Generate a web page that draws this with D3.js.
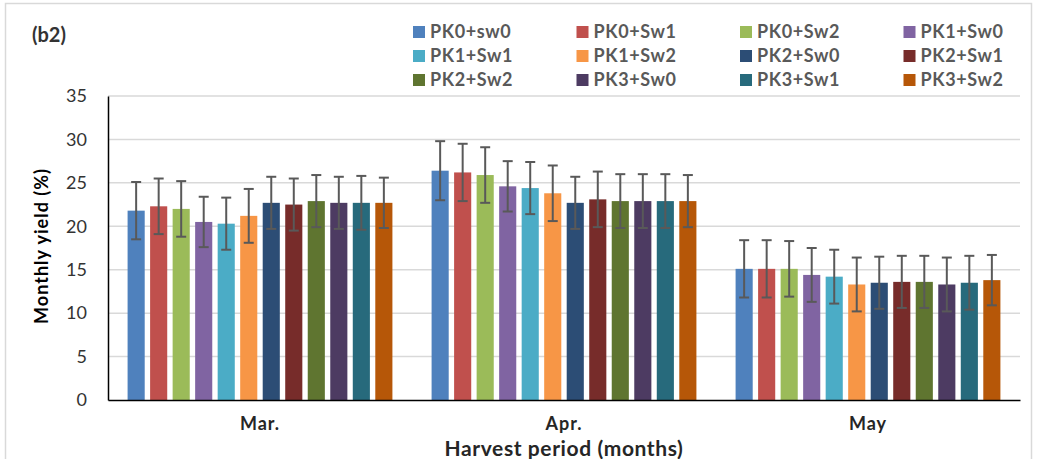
<!DOCTYPE html>
<html>
<head>
<meta charset="utf-8">
<script src="https://cdn.jsdelivr.net/npm/d3@7"></script>
<style>
  body { margin: 0; background: #fff; }
  text { font-family: Lato, "Liberation Sans", sans-serif; }
</style>
</head>
<body>
<div id="chart"></div>
<script>
// data
const months = ["Mar.", "Apr.", "May"];
const treatments = ["PK0+sw0", "PK0+Sw1", "PK0+Sw2", "PK1+Sw0", "PK1+Sw1", "PK1+Sw2",
                    "PK2+Sw0", "PK2+Sw1", "PK2+Sw2", "PK3+Sw0", "PK3+Sw1", "PK3+Sw2"];
const colors = ["#4F81BD", "#C0504D", "#9BBB59", "#8064A2", "#4BACC6", "#F79646",
                "#2C4D75", "#772C2A", "#5F7530", "#4D3B62", "#276A7C", "#B65708"];
const marMeans = [21.8, 22.3, 22.0, 20.5, 20.3, 21.2, 22.7, 22.5, 22.9, 22.7, 22.7, 22.7];
const marErr   = [3.3, 3.2, 3.2, 2.9, 3.0, 3.1, 3.0, 3.0, 3.0, 3.0, 3.1, 2.9];
const aprMeans = [26.4, 26.2, 25.9, 24.6, 24.4, 23.8, 22.7, 23.1, 22.9, 22.9, 22.9, 22.9];
const aprErr   = [3.4, 3.3, 3.2, 2.9, 3.0, 3.2, 3.0, 3.2, 3.1, 3.1, 3.1, 3.0];
const mayMeans = [15.1, 15.1, 15.1, 14.4, 14.2, 13.3, 13.5, 13.6, 13.6, 13.3, 13.5, 13.8];
const mayErr   = [3.3, 3.3, 3.2, 3.1, 3.1, 3.1, 3.0, 3.0, 3.0, 3.1, 3.1, 2.9];
const yTicks = [0, 5, 10, 15, 20, 25, 30, 35];

const width = 1037, height = 459;
const margin = {top: 96, right: 17, bottom: 59, left: 108};
const innerW = width - margin.left - margin.right;
const innerH = height - margin.top - margin.bottom;

let means = [marMeans, aprMeans, mayMeans];
let errs = [marErr, aprErr, mayErr];
let data = [];
months.forEach((m, i) => {
    treatments.forEach((t, j) => {
        data.push({month: m, treat: t, value: means[i][j], err: errs[i][j], color: colors[j]});
    });
});

let svg = d3.select("#chart")
    .append("svg")
    .attr("width", width)
    .attr("height", height);

// outer frame
svg.append("rect")
    .attr("x", 5.5).attr("y", 3.5)
    .attr("width", 1026).attr("height", 470)
    .attr("fill", "none")
    .attr("stroke", "#d9d9d9")
    .attr("stroke-width", 1.5);

let g = svg.append("g")
    .attr("transform", `translate(${margin.left}, ${margin.top})`);

let x0 = d3.scaleBand()
    .domain(months)
    .range([0, innerW]);

let x1 = d3.scaleBand()
    .domain(treatments)
    .range([0, x0.bandwidth()])
    .paddingInner(0.24)
    .paddingOuter(0.87);

let y = d3.scaleLinear()
    .domain([0, 35])
    .range([innerH, 0]);

// gridlines
g.append("g")
    .selectAll("line")
    .data(yTicks.filter(d => d > 0))
    .enter()
    .append("line")
    .attr("x1", 0).attr("x2", innerW)
    .attr("y1", d => y(d)).attr("y2", d => y(d))
    .attr("stroke", "#d9d9d9")
    .attr("stroke-width", 1.5);

// y axis
let yAxis = g.append("g")
    .call(d3.axisLeft(y).tickValues(yTicks).tickSize(0).tickPadding(21));
yAxis.select(".domain").attr("stroke", "#000").attr("stroke-width", 1.5);
yAxis.selectAll("text")
    .style("font-family", "Lato, sans-serif")
    .style("font-size", "18px")
    .attr("fill", "#333");

// bars
g.selectAll("rect.bar")
    .data(data)
    .enter()
    .append("rect")
    .attr("class", "bar")
    .attr("x", d => x0(d.month) + x1(d.treat))
    .attr("y", d => y(d.value))
    .attr("width", x1.bandwidth())
    .attr("height", d => y(0) - y(d.value))
    .attr("fill", d => d.color);

// error bars
let eb = g.append("g").selectAll("g")
    .data(data)
    .enter()
    .append("g")
    .attr("transform", d => `translate(${x0(d.month) + x1(d.treat) + x1.bandwidth() / 2}, 0)`);
eb.append("line")
    .attr("y1", d => y(d.value + d.err))
    .attr("y2", d => y(d.value - d.err));
eb.append("line")
    .attr("x1", -5).attr("x2", 5)
    .attr("y1", d => y(d.value + d.err)).attr("y2", d => y(d.value + d.err));
eb.append("line")
    .attr("x1", -5).attr("x2", 5)
    .attr("y1", d => y(d.value - d.err)).attr("y2", d => y(d.value - d.err));
eb.selectAll("line")
    .attr("stroke", "#595959")
    .attr("stroke-width", 2);

// x axis
let xAxis = g.append("g")
    .attr("transform", `translate(0, ${innerH})`)
    .call(d3.axisBottom(x0).tickSize(0).tickPadding(17));
xAxis.select(".domain").attr("stroke", "#000").attr("stroke-width", 1.5);
xAxis.selectAll("text")
    .style("font-family", "Lato, sans-serif")
    .style("font-size", "18px")
    .style("font-weight", "bold")
    .style("letter-spacing", "1px")
    .attr("fill", "#262626");

// axis titles
svg.append("text")
    .attr("transform", `translate(48, ${margin.top + innerH / 2 - 2})rotate(-90)`)
    .style("text-anchor", "middle")
    .style("font-size", "18px")
    .style("font-weight", "bold")
    .style("letter-spacing", "1px")
    .attr("fill", "#000")
    .text("Monthly yield (%)");

svg.append("text")
    .attr("x", margin.left + innerW / 2)
    .attr("y", 456)
    .style("text-anchor", "middle")
    .style("font-size", "21px")
    .style("font-weight", "bold")
    .style("letter-spacing", "0.6px")
    .attr("fill", "#262626")
    .text("Harvest period (months)");

svg.append("text")
    .attr("x", 32)
    .attr("y", 42)
    .style("font-size", "20px")
    .style("font-weight", "bold")
    .attr("fill", "#333")
    .text("(b2)");

// legend
let legend = svg.append("g")
    .selectAll("g")
    .data(treatments)
    .enter()
    .append("g")
    .attr("transform", (d, i) => `translate(${413 + (i % 4) * 163.5}, ${32 + Math.floor(i / 4) * 24})`);
legend.append("rect")
    .attr("x", 0).attr("y", -6)
    .attr("width", 12).attr("height", 12)
    .attr("fill", (d, i) => colors[i]);
legend.append("text")
    .attr("x", 17)
    .attr("dy", "0.36em")
    .style("font-size", "18px")
    .style("font-weight", "bold")
    .style("letter-spacing", "0.6px")
    .attr("fill", "#595959")
    .text(d => d);
</script>
</body>
</html>
